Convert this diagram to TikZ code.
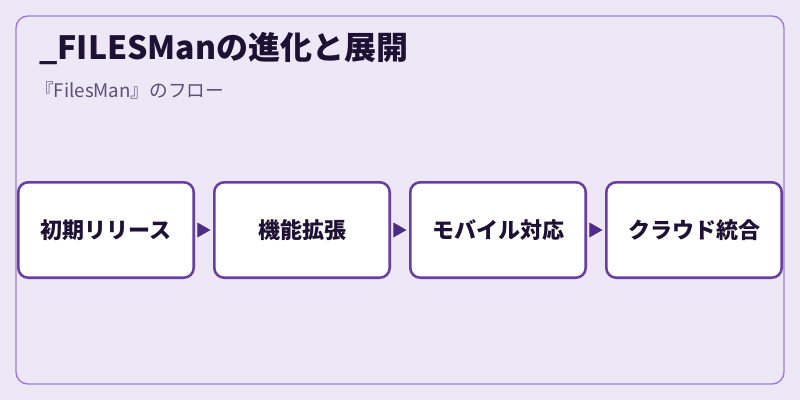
\documentclass[tikz,border=0pt]{standalone}
\usepackage{fontspec}
\setmainfont{Noto Sans CJK JP}
\usepackage{tikz}
\usetikzlibrary{positioning}
\usetikzlibrary{arrows.meta}
\definecolor{bgcol}{HTML}{EDE7F6}
\definecolor{framecol}{HTML}{9E80D2}
\definecolor{boxcol}{HTML}{6A3FA2}
\definecolor{tipcol}{HTML}{4D2C85}
\definecolor{titlecol}{HTML}{1E1133}
\definecolor{subcol}{HTML}{5F4F78}

\begin{document}
\begin{tikzpicture}[x=0.75pt,y=-0.75pt,node distance=13.5pt,
    >={Triangle[length=9.75pt,width=11pt]},
    stepbox/.style={draw=boxcol,fill=white,line width=1.9pt,rounded corners=7.5pt,
        minimum width=131.6pt,minimum height=71.6pt,inner sep=0pt,
        font=\fontsize{16.5}{19}\selectfont\bfseries,text=titlecol},
    flow/.style={->,draw=tipcol,fill=tipcol,line width=0.6pt,
        shorten <=1.9pt,shorten >=1.9pt}]
    \useasboundingbox[fill=bgcol] (0,0) rectangle (800,400);
    \draw[framecol,line width=1.1pt,rounded corners=9pt] (16,16) rectangle (784,384);
    \node[anchor=base west,inner sep=0pt,text=titlecol,
        font=\fontsize{24}{28}\selectfont\bfseries] (title) at (39,59) {\_FILESManの進化と展開};
    \node[anchor=west,inner sep=0pt,text=subcol,
        font=\fontsize{14}{17}\selectfont] (sub) at (35,90) {『FilesMan』のフロー};
    \node[stepbox] (r1) at (106,230) {初期リリース};
    \node[stepbox] (r2) [right=of r1] {機能拡張};
    \node[stepbox] (r3) [right=of r2] {モバイル対応};
    \node[stepbox] (r4) [right=of r3] {クラウド統合};
    \path (r1) edge [flow] (r2)
          (r2) edge [flow] (r3)
          (r3) edge [flow] (r4);
\end{tikzpicture}
\end{document}
